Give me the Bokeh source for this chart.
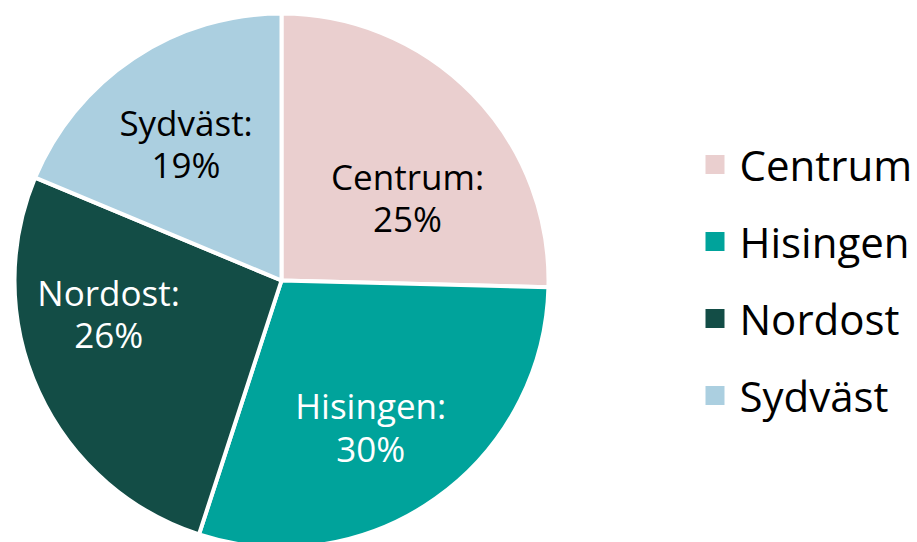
import math
from bokeh.plotting import figure
from bokeh.models import ColumnDataSource, Range1d
from bokeh.core.properties import value
from bokeh.embed import file_html
from bokeh.resources import INLINE

# ---- data ----
regions = ["Centrum", "Hisingen", "Nordost", "Sydväst"]
shares = [25.4, 29.6, 26.3, 18.7]
colors = ["#EACFCF", "#00A39B", "#134D46", "#ABCFE0"]
label_colors = ["#000000", "#FFFFFF", "#FFFFFF", "#000000"]

# ---- layout ----
W, H = 917, 542
cx, cy, R = 281, 262, 267
label_r = 0.62 * 266
label_shift = [(8, -32), (-6, -12), (-23, 36), (-4, 0)]
FONT = "Open Sans"

p = figure(width=W, height=H, output_backend="svg", toolbar_location=None,
           x_range=Range1d(0, W), y_range=Range1d(0, H), min_border=0,
           outline_line_color=None)
p.axis.visible = False
p.grid.visible = False
p.background_fill_color = "white"
p.border_fill_color = "white"

total = sum(shares)
starts, ends, lx, ly, texts = [], [], [], [], []
cum = 0.0
for i, s in enumerate(shares):
    a0 = math.pi / 2 - 2 * math.pi * cum / total
    cum += s
    a1 = math.pi / 2 - 2 * math.pi * cum / total
    starts.append(a0)
    ends.append(a1)
    mid = (a0 + a1) / 2
    lx.append(cx + label_r * math.cos(mid) + label_shift[i][0])
    ly.append(cy + label_r * math.sin(mid) + label_shift[i][1])
    texts.append(f"{regions[i]}:\n{round(s)}%")

src = ColumnDataSource(dict(start=starts, end=ends, color=colors,
                            lx=lx, ly=ly, text=texts, tcolor=label_colors))
p.wedge(x=cx, y=cy, radius=R, start_angle="start", end_angle="end",
        direction="clock", fill_color="color", line_color="white",
        line_width=4, source=src)
p.text(x="lx", y="ly", text="text", text_color="tcolor", source=src,
       text_font=value(FONT), text_font_size="35px", text_align="center",
       text_baseline="middle", text_line_height=0.9)

# legend
leg_top = 378
step = 77
leg_y = [leg_top - i * step for i in range(len(regions))]
lsrc = ColumnDataSource(dict(y=leg_y, color=colors, name=regions))
p.scatter(x=714.5, y="y", marker="square", size=19, fill_color="color",
          line_color=None, source=lsrc)
p.text(x=739, y="y", text="name", source=lsrc, text_color="#000000",
       text_font=value(FONT), text_font_size="42px", text_align="left",
       text_baseline="middle")

open("out.html", "w").write(file_html(p, INLINE))
